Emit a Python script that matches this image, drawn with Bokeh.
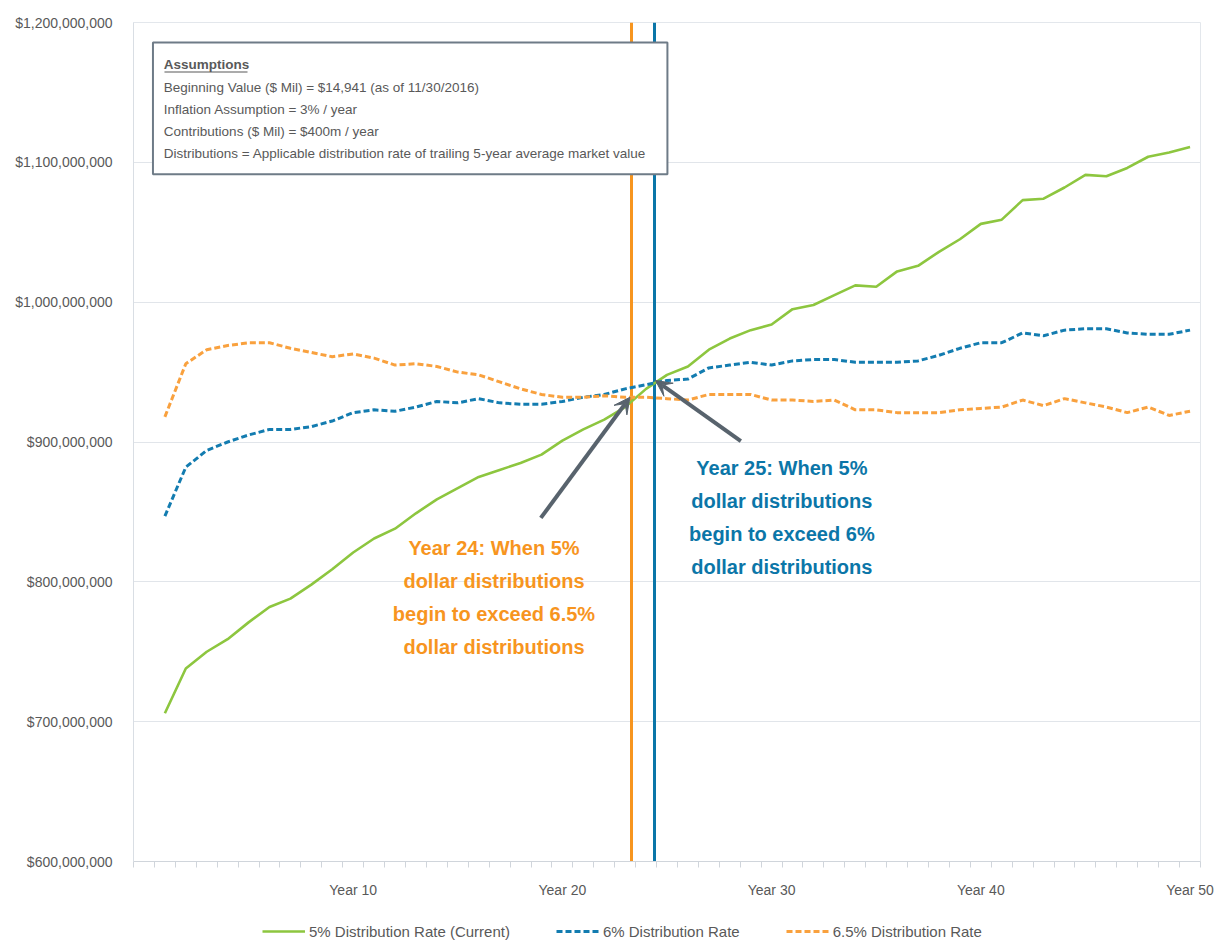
import numpy as np
from bokeh.plotting import figure
from bokeh.layouts import column
from bokeh.models import (Range1d, FixedTicker, NumeralTickFormatter, Legend, LegendItem,
                          BoxAnnotation, Label, Arrow, VeeHead)
from bokeh.core.properties import value
from bokeh.embed import file_html
from bokeh.resources import INLINE

# ---------------- data (values in $ millions) ----------------
years = list(range(1, 51))
rate_5_current = [706, 738, 750, 759, 771, 782, 788, 798, 809, 821,
                  831, 838, 849, 859, 867, 875, 880, 885, 891, 901,
                  909, 916, 925, 938, 948, 954, 966, 974, 980, 984,
                  995, 998, 1005, 1012, 1011, 1022, 1026, 1036, 1045, 1056,
                  1059, 1073, 1074, 1082, 1091, 1090, 1096, 1104, 1107, 1111]
rate_6 = [847, 882, 894, 900, 905, 909, 909, 911, 915, 921,
          923, 922, 925, 929, 928, 931, 928, 927, 927, 929,
          932, 934, 938, 941, 944, 945, 953, 955, 957, 955,
          958, 959, 959, 957, 957, 957, 958, 962, 967, 971,
          971, 978, 976, 980, 981, 981, 978, 977, 977, 980]
rate_6_5 = [918, 956, 966, 969, 971, 971, 967, 964, 961, 963,
            960, 955, 956, 954, 950, 948, 943, 938, 934, 932,
            932, 933, 932, 932, 931, 930, 934, 934, 934, 930,
            930, 929, 930, 923, 923, 921, 921, 921, 923, 924,
            925, 930, 926, 931, 928, 925, 921, 925, 919, 922]

series_names = ["5% Distribution Rate (Current)", "6% Distribution Rate", "6.5% Distribution Rate"]
y_ticks = [600, 700, 800, 900, 1000, 1100, 1200]
x_tick_years = [10, 20, 30, 40, 50]
x_tick_labels = ["Year 10", "Year 20", "Year 30", "Year 40", "Year 50"]

# crossover markers (position on the year axis, value in $ millions)
cross_6_5_year, cross_6_5_value = 23.28, 932
cross_6_year, cross_6_value = 24.4, 944

assumption_title = "Assumptions"
assumption_lines = [
    "Beginning Value ($ Mil) = $14,941 (as of 11/30/2016)",
    "Inflation Assumption = 3% / year",
    "Contributions ($ Mil) = $400m / year",
    "Distributions = Applicable distribution rate of trailing 5-year average market value",
]
note_orange = ["Year 24: When 5%", "dollar distributions", "begin to exceed 6.5%", "dollar distributions"]
note_blue = ["Year 25: When 5%", "dollar distributions", "begin to exceed 6%", "dollar distributions"]

M = 1e6
GREEN = "#8DC63F"
BLUE = "#137CB0"
ORANGE = "#F9A13E"
V_ORANGE = "#F7951F"
V_BLUE = "#0B76A8"
ARROW = "#58636D"
GRAY_TXT = "#595959"
REG = "Liberation Sans"

p = figure(width=1219, height=900, output_backend="svg", toolbar_location=None,
           x_range=Range1d(-0.5, 50.5), y_range=Range1d(600 * M, 1200 * M),
           min_border_left=133, min_border_right=19, min_border_top=22, min_border_bottom=38)
p.background_fill_color = "white"
p.border_fill_color = "white"
p.outline_line_color = "#e3e7ec"

# axes
p.yaxis.ticker = FixedTicker(ticks=[v * M for v in y_ticks])
p.yaxis.formatter = NumeralTickFormatter(format="$0,0")
p.yaxis.axis_line_color = "#d9dee4"
p.yaxis.major_tick_line_color = None
p.yaxis.minor_tick_line_color = None
p.yaxis.major_label_text_font = REG
p.yaxis.major_label_text_font_size = "14px"
p.yaxis.major_label_text_color = GRAY_TXT
p.yaxis.major_label_standoff = 15

p.xaxis.ticker = FixedTicker(ticks=x_tick_years, minor_ticks=[i - 0.5 for i in range(0, 52)])
p.xaxis.major_label_overrides = dict(zip(x_tick_years, x_tick_labels))
p.xaxis.axis_line_color = "#d0d5db"
p.xaxis.major_tick_line_color = None
p.xaxis.minor_tick_line_color = "#d0d5db"
p.xaxis.minor_tick_out = 6
p.xaxis.minor_tick_in = 0
p.xaxis.major_label_text_font = REG
p.xaxis.major_label_text_font_size = "14px"
p.xaxis.major_label_text_color = GRAY_TXT
p.xaxis.major_label_standoff = 14

p.xgrid.grid_line_color = None
p.ygrid.grid_line_color = "#e1e5ea"
p.ygrid.grid_line_width = 1

# vertical markers
p.vspan(x=[cross_6_5_year, cross_6_year], line_color=[V_ORANGE, V_BLUE], line_width=3)

# series
y5 = [v * M for v in rate_5_current]
y6 = [v * M for v in rate_6]
y65 = [v * M for v in rate_6_5]
p.line(years, y5, line_color=GREEN, line_width=2.6)
p.line(years, y6, line_color=BLUE, line_width=3, line_dash="6 3")
p.line(years, y65, line_color=ORANGE, line_width=3, line_dash="6 3")

# arrows
p.add_layout(Arrow(x_start=18.97, y_start=845.7 * M, x_end=cross_6_5_year - 0.05, y_end=cross_6_5_value * M,
                   line_color=ARROW, line_width=4,
                   end=VeeHead(size=16, fill_color=ARROW, line_color=ARROW, line_width=1)))
p.add_layout(Arrow(x_start=28.53, y_start=900.7 * M, x_end=cross_6_year + 0.05, y_end=cross_6_value * M,
                   line_color=ARROW, line_width=4,
                   end=VeeHead(size=16, fill_color=ARROW, line_color=ARROW, line_width=1)))

# annotation texts
line_step = 33 / 1.4  # $M per text line
p.text(x=[16.73] * 4, y=[(824.3 - i * line_step) * M for i in range(4)], text=note_orange,
       text_font=value(REG), text_font_style="bold", text_font_size="20px",
       text_color=V_ORANGE, text_align="center", text_baseline="middle")
p.text(x=[30.49] * 4, y=[(881.4 - i * line_step) * M for i in range(4)], text=note_blue,
       text_font=value(REG), text_font_style="bold", text_font_size="20px",
       text_color=V_BLUE, text_align="center", text_baseline="middle")

# assumptions box
p.add_layout(BoxAnnotation(left=0.43, right=25.02, top=1185.7 * M, bottom=1091.4 * M,
                           fill_color="white", fill_alpha=1.0,
                           line_color="#6E7B87", line_width=2, line_alpha=1.0))
p.add_layout(Label(x=0.95, y=1170 * M, text=assumption_title, text_font=REG,
                   text_font_style="bold", text_font_size="13.5px", text_color=GRAY_TXT,
                   text_baseline="middle"))
p.add_layout(BoxAnnotation(left=0.98, right=4.95, top=1164.9 * M, bottom=1164.2 * M,
                           fill_color=GRAY_TXT, fill_alpha=1.0, line_alpha=0))
for i, t in enumerate(assumption_lines):
    p.add_layout(Label(x=0.95, y=(1153.6 - i * 22 / 1.4) * M, text=t, text_font=REG,
                       text_font_size="13.5px", text_color=GRAY_TXT, text_baseline="middle"))

# legend strip under the chart (proxy renderers sit outside the visible range)
lg = figure(width=1219, height=42, output_backend="svg", toolbar_location=None,
            x_range=Range1d(0, 1), y_range=Range1d(0, 1),
            min_border_left=0, min_border_right=0, min_border_top=0, min_border_bottom=0)
lg.axis.visible = False
lg.grid.grid_line_color = None
lg.outline_line_color = None
lg.background_fill_color = "white"
lg.border_fill_color = "white"
l5 = lg.line([-10, -9], [-10, -9], line_color=GREEN, line_width=2.6)
l6 = lg.line([-10, -9], [-10, -9], line_color=BLUE, line_width=3, line_dash="6 3")
l65 = lg.line([-10, -9], [-10, -9], line_color=ORANGE, line_width=3, line_dash="6 3")
legend = Legend(items=[LegendItem(label=series_names[0], renderers=[l5]),
                       LegendItem(label=series_names[1], renderers=[l6]),
                       LegendItem(label=series_names[2], renderers=[l65])],
                orientation="horizontal", location=(129, 1), padding=0, margin=0,
                spacing=46, glyph_width=43, glyph_height=20, label_standoff=4,
                label_text_font=REG, label_text_font_size="15px", label_text_color=GRAY_TXT,
                border_line_alpha=0, background_fill_alpha=0)
lg.add_layout(legend)

layout = column(p, lg, spacing=0)
open("out.html", "w").write(file_html(layout, INLINE))
